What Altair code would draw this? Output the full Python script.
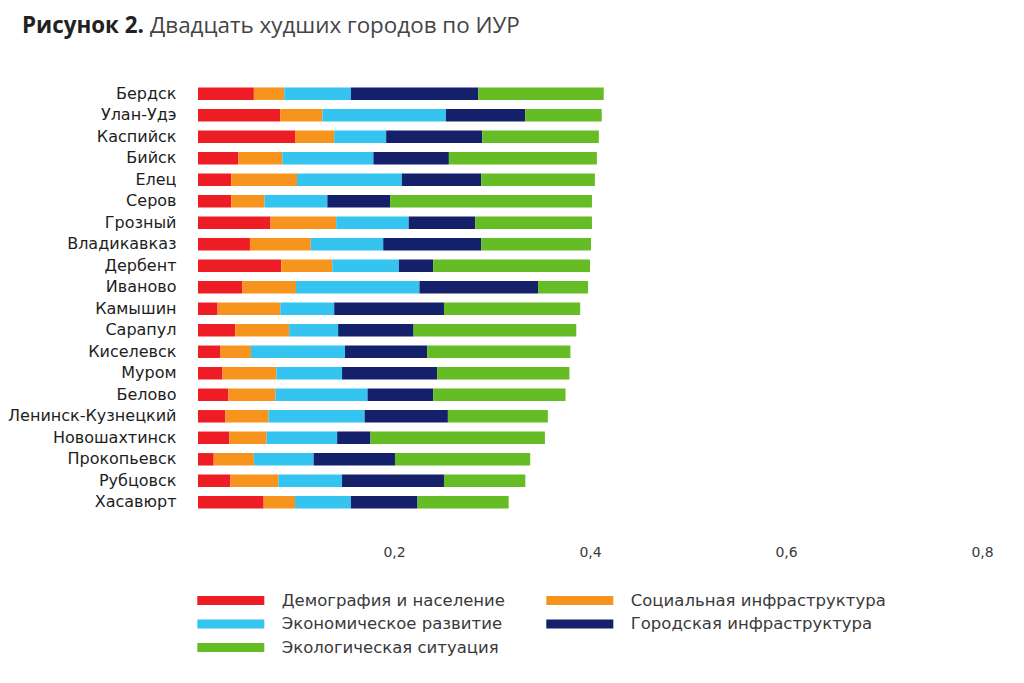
import altair as alt
import pandas as pd

cities = ["Бердск", "Улан-Удэ", "Каспийск", "Бийск", "Елец", "Серов", "Грозный",
          "Владикавказ", "Дербент", "Иваново", "Камышин", "Сарапул", "Киселевск",
          "Муром", "Белово", "Ленинск-Кузнецкий", "Новошахтинск", "Прокопьевск",
          "Рубцовск", "Хасавюрт"]

demography = [0.057, 0.084, 0.099, 0.041, 0.034, 0.034, 0.074, 0.053, 0.085, 0.045,
              0.020, 0.038, 0.023, 0.025, 0.031, 0.028, 0.032, 0.016, 0.033, 0.067]
social = [0.031, 0.043, 0.040, 0.045, 0.067, 0.034, 0.067, 0.062, 0.052, 0.055,
          0.064, 0.055, 0.031, 0.055, 0.048, 0.044, 0.038, 0.041, 0.049, 0.032]
economy = [0.068, 0.126, 0.053, 0.093, 0.107, 0.064, 0.074, 0.074, 0.068, 0.126,
           0.055, 0.050, 0.096, 0.067, 0.094, 0.098, 0.072, 0.061, 0.065, 0.057]
urban = [0.130, 0.081, 0.098, 0.077, 0.081, 0.064, 0.068, 0.100, 0.035, 0.121,
         0.112, 0.077, 0.084, 0.097, 0.067, 0.085, 0.034, 0.083, 0.104, 0.068]
ecology = [0.128, 0.078, 0.119, 0.151, 0.116, 0.206, 0.119, 0.112, 0.160, 0.051,
           0.139, 0.166, 0.146, 0.135, 0.135, 0.102, 0.178, 0.138, 0.083, 0.093]

components = ["Демография и население", "Социальная инфраструктура",
              "Экономическое развитие", "Городская инфраструктура",
              "Экологическая ситуация"]
colors = ["#ee1c25", "#f7941d", "#35c4f0", "#14206a", "#66bc25"]

x_ticks = [0.2, 0.4, 0.6, 0.8]
title_bold = "Рисунок 2."
title_rest = "Двадцать худших городов по ИУР"

series = [demography, social, economy, urban, ecology]
rows = []
for ci, (comp, vals) in enumerate(zip(components, series)):
    for city, v in zip(cities, vals):
        rows.append({"city": city, "component": comp, "idx": ci, "value": v})
df = pd.DataFrame(rows)

LABEL_FONT = "DejaVu Sans"

bars = alt.Chart(df).mark_bar().encode(
    y=alt.Y("city:N", sort=cities, title=None,
            scale=alt.Scale(paddingInner=0.42, paddingOuter=0.3),
            axis=alt.Axis(domain=False, ticks=False, labelPadding=22,
                          labelFont=LABEL_FONT, labelFontSize=16,
                          labelColor="#1e1e1e", labelLimit=300)),
    x=alt.X("value:Q", stack="zero", title=None,
            scale=alt.Scale(domain=[0, 0.8], nice=False),
            axis=alt.Axis(values=x_ticks, domain=False, ticks=False, grid=False,
                          offset=28, labelPadding=2, labelFlush=False,
                          labelExpr="replace(format(datum.value, '.1f'), '.', ',')",
                          labelFont=LABEL_FONT, labelFontSize=14,
                          labelColor="#3a3a3a")),
    color=alt.Color("component:N",
                    scale=alt.Scale(domain=components, range=colors),
                    legend=alt.Legend(title=None, orient="none", legendX=21.3, legendY=508,
                                      direction="horizontal",
                                      columns=2, columnPadding=40, rowPadding=3.5,
                                      symbolType="M-3,-0.4H3V0.4H-3Z",
                                      symbolSize=499, symbolStrokeWidth=0,
                                      symbolOpacity=1, labelOffset=39.4,
                                      labelFont=LABEL_FONT, labelFontSize=16.5,
                                      labelColor="#3a3a3a", labelLimit=400)),
    order=alt.Order("idx:Q"),
)

tdf = pd.DataFrame({"bold": [title_bold], "rest": [title_rest]})
t1 = alt.Chart(tdf).mark_text(align="left", baseline="alphabetic", font="Open Sans",
                              fontSize=22.4, fontWeight="bold", color="#222222").encode(
    text="bold:N", x=alt.value(-176), y=alt.value(-48))
t2 = alt.Chart(tdf).mark_text(align="left", baseline="alphabetic", font="Open Sans",
                              fontSize=22.4, color="#444444").encode(
    text="rest:N", x=alt.value(-48), y=alt.value(-48))

chart = alt.layer(bars, t1, t2).properties(
    width=784, height=434,
    autosize=alt.AutoSizeParams(type="none"),
    padding={"left": 190, "top": 73, "right": 34, "bottom": 160},
).configure_view(stroke=None)

chart.save("out.html", embed_options={"renderer": "svg", "actions": False})
